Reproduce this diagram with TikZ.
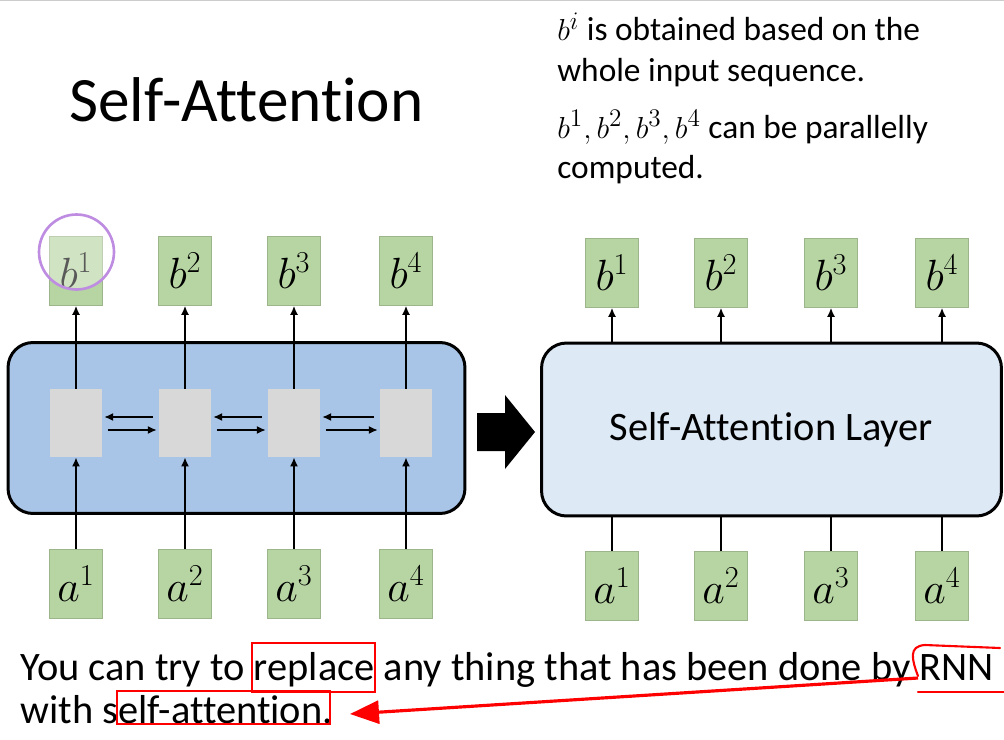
\documentclass[tikz,border=0pt]{standalone}
\usepackage{fontspec}
\setmainfont{Carlito}[Ligatures=NoCommon]
\usetikzlibrary{positioning, arrows.meta, calc}
\definecolor{boxgreen}{RGB}{183,213,163}
\definecolor{rnnblue}{RGB}{168,196,230}
\definecolor{layerblue}{RGB}{222,233,246}
\definecolor{cellgray}{RGB}{216,216,216}
\definecolor{hlpurple}{RGB}{190,140,225}

\begin{document}
\begin{tikzpicture}[x=0.02cm, y=-0.02cm,
    txt/.style={inner sep=0pt, anchor=base west},
    gbox/.style={fill=boxgreen, draw=boxgreen!85!black, line width=0.3pt,
      minimum width=1.06cm, minimum height=1.38cm, inner sep=0pt,
      font=\fontsize{25}{28}\selectfont},
    cell/.style={fill=cellgray, minimum width=1.04cm, minimum height=1.36cm, inner sep=0pt},
    bigbox/.style={draw, line width=1.7pt, rounded corners=0.5cm, inner sep=0pt},
    arr/.style={-{Latex[length=1.8mm, width=1.6mm]}, line width=1.1pt},
    plainline/.style={line width=1.1pt},
    redbox/.style={draw=red, line width=0.7pt, inner sep=0pt},
    redarr/.style={red, line width=1.8pt, -{Triangle[length=0.58cm, width=0.46cm]}}]
  \useasboundingbox (0,0) rectangle (1004,740);
  \draw[gray!40, line width=1pt] (0,0.5) -- (1004,0.5);

  % title and notes
  \node[txt, font=\fontsize{36}{40}\selectfont] (title) at (69,122) {Self-Attention};
  \begin{scope}[font=\fontsize{19}{22}\selectfont]
    \node[txt] (note1) at (557,41) {$b^i$ is obtained based on the};
    \node[txt] (note2) at (557,82) {whole input sequence.};
    \node[txt] (note3) at (557,138) {$b^1, b^2, b^3, b^4$ can be parallelly};
    \node[txt] (note4) at (557,178) {computed.};
  \end{scope}

  % RNN side
  \node[bigbox, fill=rnnblue, minimum width=9.14cm, minimum height=3.42cm] (rnn) at (236.5,428) {};
  \foreach \i/\x in {1/76, 2/185, 3/294, 4/406} {
    \node[gbox] (lb\i) at (\x,271) {$b^{\i}$};
    \node[cell] (c\i) at (\x,423) {};
    \node[gbox] (la\i) at (\x,584) {$a^{\i}$};
    \draw[arr] (la\i) -- (c\i);
    \draw[arr] (c\i) -- (lb\i);
  }
  \foreach \i/\j in {1/2, 2/3, 3/4} {
    \draw[arr, shorten <=3pt, shorten >=1pt] ([yshift=0.12cm]c\j.west) -- ([yshift=0.12cm]c\i.east);
    \draw[arr, shorten <=3pt, shorten >=1pt] ([yshift=-0.14cm]c\i.east) -- ([yshift=-0.14cm]c\j.west);
  }
  % highlight on b1
  \node[circle, draw=hlpurple, line width=1.5pt, fill=white, fill opacity=0.35,
    minimum size=1.5cm] (hl) at (76.5,252) {};

  % big arrow
  \fill (477,413) -- (505,413) -- (505,395) -- (535,432) -- (505,469) -- (505,451) -- (477,451) -- cycle;

  % self-attention side
  \node[bigbox, fill=layerblue, minimum width=9.2cm, minimum height=3.46cm,
    font=\fontsize{23}{26}\selectfont] (sal) at (771.5,429.5) {Self-Attention Layer};
  \foreach \i/\x in {1/612, 2/721, 3/831, 4/942} {
    \node[gbox] (rb\i) at (\x,273) {$b^{\i}$};
    \node[gbox] (ra\i) at (\x,586) {$a^{\i}$};
    \draw[arr] (sal.north -| rb\i) -- (rb\i);
    \draw[plainline] (ra\i) -- (sal.south -| ra\i);
  }

  % bottom remark
  \begin{scope}[font=\fontsize{23}{26}\selectfont]
    \node[txt] (line1) at (20,680) {You can try to replace any thing that has been done by RNN};
    \node[txt] (line2) at (20,723) {with self-attention.};
  \end{scope}
  \node[redbox, minimum width=2.46cm, minimum height=0.98cm] (replbox) at (313.5,667.5) {};
  \node[redbox, minimum width=4.26cm, minimum height=0.66cm] (selfbox) at (223.5,707.5) {};
  \draw[red, line width=1.2pt, line cap=round]
    (918,676) .. controls (912,660) and (908,646) .. (925,645) -- (1000,648);
  \draw[red, line width=1.2pt, line cap=round] (918,692) -- (1004,692);
  \coordinate (rnnmark) at (918,678);
  \coordinate (tip) at (350,714);
  \draw[redarr] (rnnmark) -- (tip);
\end{tikzpicture}
\end{document}
